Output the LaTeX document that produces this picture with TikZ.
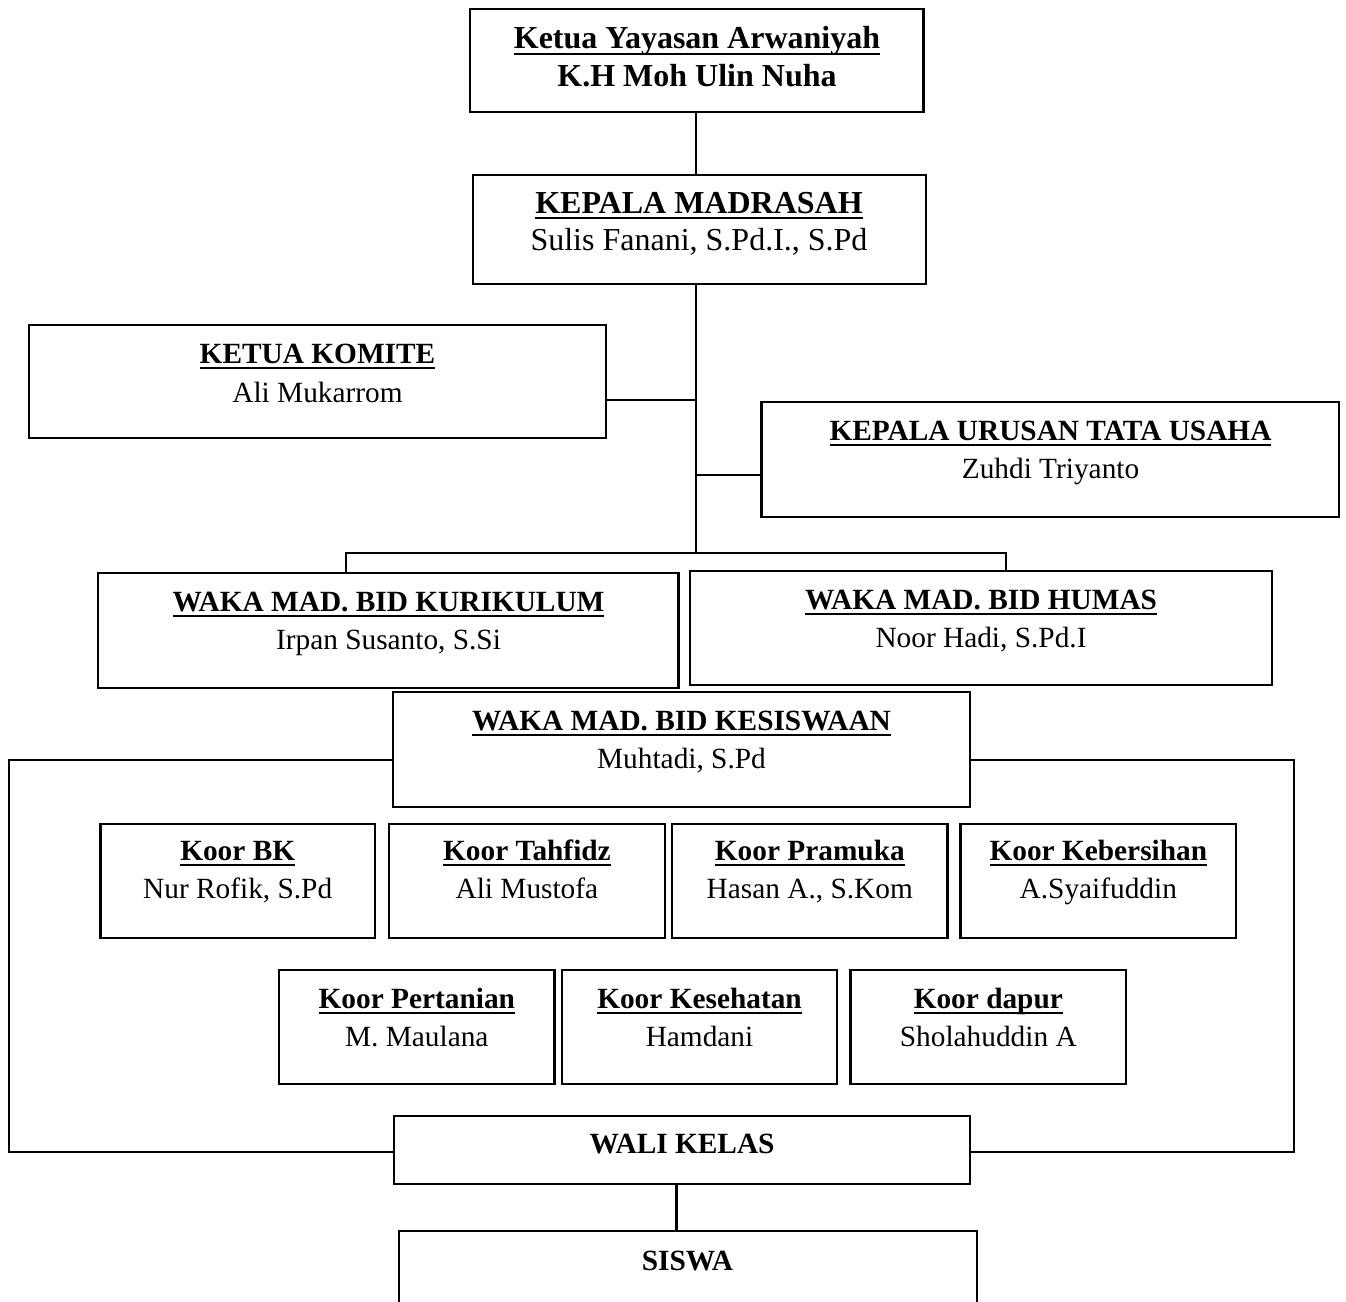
\documentclass[tikz,border=0pt]{standalone}
\usepackage{fontspec}
\setmainfont{Liberation Serif}
\usetikzlibrary{fit}
\newcommand{\myul}[1]{\setbox0=\hbox{#1}\leavevmode\rlap{\rule[-2.2pt]{\wd0}{0.8pt}}\box0}
\tikzset{
  orgbox/.style={draw, line width=0.85pt, inner sep=0pt, fill=none},
  conn/.style={line width=0.85pt},
  bigtxt/.style={anchor=base, inner sep=0pt, font=\fontsize{12}{14}\selectfont},
  smtxt/.style={anchor=base, inner sep=0pt, font=\fontsize{11}{13}\selectfont}
}
\begin{document}
\begin{tikzpicture}[x=0.375pt,y=-0.375pt]
\useasboundingbox (0,0) rectangle (1346,1301);
\clip (0,0) rectangle (1346,1301);
\fill[white] (0,0) rectangle (1346,1301);

% boxes
\node[orgbox, fit={(470,9) (923.5,111.7)}] (yay) {};
\node[orgbox, fit={(472.7,175) (925.7,284)}] (kep) {};
\node[orgbox, fit={(29,325) (605.8,437.7)}] (kom) {};
\node[orgbox, fit={(761.5,402) (1339.3,516.7)}] (tu) {};
\node[orgbox, fit={(98,572.7) (678.5,687.7)}] (kur) {};
\node[orgbox, fit={(690,570.7) (1272,685)}] (hum) {};
\node[orgbox, fit={(393,692.3) (970,806.7)}] (kes) {};
\node[orgbox, fit={(100.4,824) (375,938.3)}] (bk) {};
\node[orgbox, fit={(388.8,824) (665,938.3)}] (tah) {};
\node[orgbox, fit={(672,824) (947.6,938.3)}] (pra) {};
\node[orgbox, fit={(960.5,824) (1236,938.3)}] (keb) {};
\node[orgbox, fit={(279,970) (554.5,1084.3)}] (per) {};
\node[orgbox, fit={(562,970) (837,1084.3)}] (kse) {};
\node[orgbox, fit={(850.6,970) (1126,1084.3)}] (dap) {};
\node[orgbox, fit={(394,1115.7) (970,1184)}] (wali) {};
\node[orgbox, fit={(399.3,1231) (976.7,1360)}] (sis) {};

% texts
\node[bigtxt] (yayA) at (697,49) {\bfseries\myul{Ketua Yayasan Arwaniyah}};
\node[bigtxt] (yayB) at (697,87) {\bfseries K.H Moh Ulin Nuha};
\node[bigtxt] (kepA) at (699,213) {\bfseries\myul{KEPALA MADRASAH}};
\node[bigtxt] (kepB) at (699,250) {Sulis Fanani, S.Pd.I., S.Pd};
\node[smtxt] (komA) at (317.5,363) {\bfseries\myul{KETUA KOMITE}};
\node[smtxt] (komB) at (317.5,402) {Ali Mukarrom};
\node[smtxt] (tuA) at (1050.5,440) {\bfseries\myul{KEPALA URUSAN TATA USAHA}};
\node[smtxt] (tuB) at (1050.5,478) {Zuhdi Triyanto};
\node[smtxt] (kurA) at (388.5,611) {\bfseries\myul{WAKA MAD. BID KURIKULUM}};
\node[smtxt] (kurB) at (388.5,649.5) {Irpan Susanto, S.Si};
\node[smtxt] (humA) at (981,609) {\bfseries\myul{WAKA MAD. BID HUMAS}};
\node[smtxt] (humB) at (981,647) {Noor Hadi, S.Pd.I};
\node[smtxt] (kesA) at (681.5,730.5) {\bfseries\myul{WAKA MAD. BID KESISWAAN}};
\node[smtxt] (kesB) at (681.5,768) {Muhtadi, S.Pd};
\node[smtxt] (bkA) at (237.7,860) {\bfseries\myul{Koor BK}};
\node[smtxt] (bkB) at (237.7,898) {Nur Rofik, S.Pd};
\node[smtxt] (tahA) at (526.9,860) {\bfseries\myul{Koor Tahfidz}};
\node[smtxt] (tahB) at (526.9,898) {Ali Mustofa};
\node[smtxt] (praA) at (809.8,860) {\bfseries\myul{Koor Pramuka}};
\node[smtxt] (praB) at (809.8,898) {Hasan A., S.Kom};
\node[smtxt] (kebA) at (1098.3,860) {\bfseries\myul{Koor Kebersihan}};
\node[smtxt] (kebB) at (1098.3,898) {A.Syaifuddin};
\node[smtxt] (perA) at (416.8,1008) {\bfseries\myul{Koor Pertanian}};
\node[smtxt] (perB) at (416.8,1046) {M. Maulana};
\node[smtxt] (kseA) at (699.5,1008) {\bfseries\myul{Koor Kesehatan}};
\node[smtxt] (kseB) at (699.5,1046) {Hamdani};
\node[smtxt] (dapA) at (988.3,1008) {\bfseries\myul{Koor dapur}};
\node[smtxt] (dapB) at (988.3,1046) {Sholahuddin A};
\node[smtxt] (waliA) at (682,1153) {\bfseries WALI KELAS};
\node[smtxt] (sisA) at (687.5,1270) {\bfseries SISWA};

% junction coordinates
\coordinate (trk) at (696,553);
\coordinate (kj) at (696,400);
\coordinate (tj) at (696,475);
\coordinate (bl) at (346,553);
\coordinate (br) at (1006,553);
\coordinate (ll) at (9,760);
\coordinate (lb) at (9,1152);
\coordinate (rr) at (1294,760);
\coordinate (rb) at (1294,1152);
\coordinate (ws) at (676.5,1200);

% connectors
\draw[conn] (yay.south -| trk) -- (kep.north -| trk);
\draw[conn] (kep.south -| trk) -- (trk);
\draw[conn] (kj -| kom.east) -- (kj);
\draw[conn] (tj) -- (tj -| tu.west);
\draw[conn] (bl |- kur.north) -- (bl) -- (br) -- (br |- hum.north);
\draw[conn] (ll -| kes.west) -- (ll) -- (lb) -- (lb -| wali.west);
\draw[conn] (rr -| kes.east) -- (rr) -- (rb) -- (rb -| wali.east);
\draw[conn] (wali.south -| ws) -- (sis.north -| ws);
\end{tikzpicture}
\end{document}
